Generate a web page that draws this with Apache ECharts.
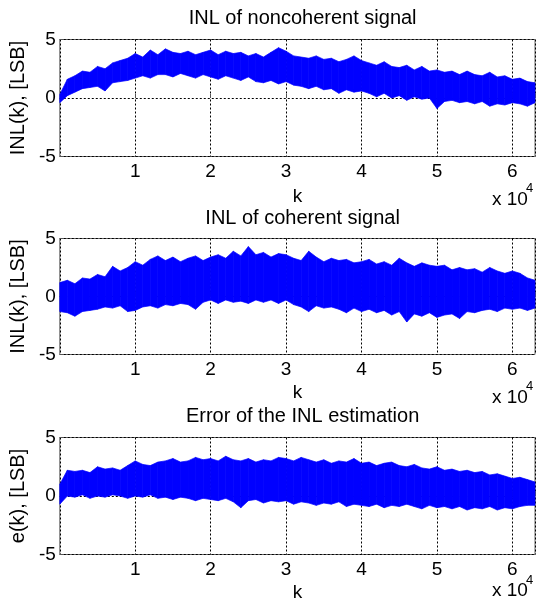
<!DOCTYPE html>
<html><head><meta charset="utf-8">
<script src="https://cdn.jsdelivr.net/npm/echarts@6/dist/echarts.min.js"></script>
<style>html,body{margin:0;padding:0;background:#fff}#c{width:538px;height:610px}</style>
</head><body><div id="c"></div><script>
// sample positions, in thousands of k
const kThousands = [0,1,2,3,4,5,6,7,8,9,10,11,12,13,14,15,16,17,18,19,20,21,22,23,24,25,26,27,28,29,30,31,32,33,34,35,36,37,38,39,40,41,42,43,44,45,46,47,48,49,50,51,52,53,54,55,56,57,58,59,60,61,62,63];
// envelope of the noisy traces (LSB)
const noncohUpper = [0.3,1.6,1.9,2.3,2.2,2.7,2.5,3.0,3.2,3.4,3.8,3.5,4.1,3.7,4.2,3.9,3.8,4.0,3.7,3.9,4.1,3.7,4.0,3.8,3.9,3.6,3.8,3.5,3.9,4.3,4.0,3.6,3.5,3.4,3.6,3.3,3.4,3.1,3.3,3.6,3.2,3.0,2.8,3.1,2.7,2.6,2.8,2.4,2.7,2.3,2.4,2.2,2.3,2.0,2.3,2.0,1.9,2.2,1.8,1.9,1.6,1.7,1.4,1.3];
const noncohLower = [-0.4,0.2,0.5,0.8,0.9,1.0,0.6,1.3,1.4,1.5,1.7,1.9,1.7,2.0,2.0,1.8,2.1,1.9,1.7,2.0,1.8,1.6,1.9,1.7,1.5,1.8,1.4,1.3,1.5,1.2,1.4,1.1,1.0,0.8,1.0,0.7,0.8,0.4,0.7,0.5,0.6,0.4,0.1,0.4,0.0,0.2,-0.2,0.1,-0.1,0.0,-0.9,-0.3,-0.2,-0.4,-0.3,-0.5,-0.3,-0.7,-0.5,-0.6,-0.4,-0.5,-0.7,-0.4];
const cohUpper = [1.2,1.4,1.1,1.6,1.5,1.9,1.7,2.6,2.2,2.5,3.0,2.7,3.2,3.5,3.1,3.4,3.0,3.3,3.5,3.1,3.4,3.6,3.3,3.9,3.5,4.3,3.6,3.8,3.4,3.7,3.6,3.3,3.1,3.9,3.4,3.0,3.3,3.1,3.2,2.9,3.0,3.2,2.8,3.0,2.7,3.3,2.9,2.6,2.9,2.7,2.6,2.7,2.3,2.5,2.3,2.4,2.1,2.5,2.2,2.0,2.2,2.0,1.6,1.4];
const cohLower = [-1.3,-1.4,-1.7,-1.3,-1.2,-1.1,-0.9,-1.0,-0.8,-1.3,-1.2,-0.9,-0.8,-1.0,-0.7,-0.8,-0.6,-0.7,-1.1,-0.5,-0.3,-0.6,-0.3,-0.5,-0.4,-0.6,-0.3,-0.5,-0.3,-0.6,-0.3,-0.7,-0.9,-1.3,-0.8,-1.0,-0.9,-1.1,-1.4,-1.0,-1.3,-1.1,-1.4,-1.2,-1.6,-1.3,-2.2,-1.5,-1.7,-1.4,-1.8,-1.6,-1.5,-1.9,-1.3,-1.4,-1.2,-1.1,-1.3,-1.0,-1.1,-1.0,-1.2,-1.0];
const errUpper = [1.0,2.2,2.1,2.2,2.0,2.5,2.3,2.4,2.2,2.6,3.0,2.7,2.6,2.9,3.0,3.2,2.9,3.0,3.3,3.1,3.2,3.0,3.4,3.1,3.0,3.2,2.9,3.1,3.0,3.3,3.2,3.0,3.3,3.1,2.9,3.1,2.8,3.0,2.9,3.2,2.8,2.9,2.6,2.8,2.9,2.6,2.5,2.7,2.4,2.3,2.5,2.2,2.3,2.1,2.2,2.0,2.1,1.8,1.9,1.7,1.5,1.6,1.4,1.2];
const errLower = [-0.7,0.0,-0.1,0.1,-0.2,0.0,-0.1,0.1,0.0,-0.2,0.0,-0.1,0.1,-0.2,-0.1,-0.3,-0.1,-0.2,-0.4,-0.2,-0.3,-0.4,-0.2,-0.5,-1.0,-0.4,-0.3,-0.6,-0.4,-0.5,-0.4,-0.7,-0.5,-0.6,-0.8,-0.6,-0.7,-0.5,-0.9,-0.7,-0.8,-0.9,-0.7,-1.0,-0.8,-0.9,-0.7,-0.9,-1.1,-0.8,-1.0,-0.9,-1.1,-0.9,-1.2,-1.0,-1.1,-0.9,-1.2,-1.0,-1.1,-0.9,-0.8,-0.8];
const titles = ['INL of noncoherent signal','INL of coherent signal','Error of the INL estimation'];
const yNames = ['INL(k), [LSB]','INL(k), [LSB]','e(k), [LSB]'];
const xTicks = [0,10000,20000,30000,40000,50000,60000];
const yTicks = [-5,0,5];

const FONT = "'Liberation Sans', Arial, sans-serif";
const panels = [
  {up: noncohUpper, lo: noncohLower, top: 39.5, h: 117, titleTop: 3, mulY: 200, kGap: 31},
  {up: cohUpper, lo: cohLower, top: 238.5, h: 116, titleTop: 203, mulY: 398, kGap: 28.5},
  {up: errUpper, lo: errLower, top: 437.5, h: 117, titleTop: 401, mulY: 591.5, kGap: 28.5}
];
const gridLine = {show: true, lineStyle: {color: '#000', type: [2, 2], width: 1}};
const grids = [], xAxes = [], yAxes = [], series = [], titleOpts = [], graphics = [];

function bandItem(params, api) {
  const p0 = api.coord([api.value(0), api.value(1)]);
  const p1 = api.coord([api.value(3), api.value(4)]);
  const p2 = api.coord([api.value(3), api.value(5)]);
  const p3 = api.coord([api.value(0), api.value(2)]);
  return {type: 'polygon', shape: {points: [p0, p1, p2, p3]},
    style: {fill: '#0000ff', stroke: '#0000ff', lineWidth: 0.7}};
}

panels.forEach((p, i) => {
  grids.push({left: 58.5, top: p.top, width: 478, height: p.h, show: true,
    borderColor: '#666', borderWidth: 1, backgroundColor: 'transparent', containLabel: false});
  titleOpts.push({text: titles[i], left: 297.6, top: p.titleTop, textAlign: 'center',
    textStyle: {fontFamily: FONT, fontSize: 20, fontWeight: 'normal', color: '#000'}});
  xAxes.push({type: 'value', gridIndex: i, min: 0, max: 63000, interval: 10000,
    axisLine: {show: false}, axisTick: {show: true, inside: true, length: 4, lineStyle: {color: '#555'}},
    splitLine: gridLine,
    axisLabel: {fontFamily: FONT, fontSize: 19, color: '#000', margin: 6,
      formatter: v => (xTicks.indexOf(v) > 0 ? String(v / 10000) : '')},
    name: 'k', nameLocation: 'middle', nameGap: p.kGap,
    nameTextStyle: {fontFamily: FONT, fontSize: 19, color: '#000'}});
  yAxes.push({type: 'value', gridIndex: i, min: -5, max: 5, interval: 5,
    axisLine: {show: false}, axisTick: {show: true, inside: true, length: 4, lineStyle: {color: '#555'}},
    splitLine: gridLine,
    axisLabel: {fontFamily: FONT, fontSize: 19, color: '#000', margin: 4,
      formatter: v => (yTicks.indexOf(v) >= 0 ? String(v) : '')},
    name: yNames[i], nameLocation: 'middle', nameGap: 25, nameRotate: 90,
    nameTextStyle: {fontFamily: FONT, fontSize: 20, color: '#000'}});
  const segs = [];
  for (let j = 0; j + 1 < kThousands.length; j++) {
    segs.push([kThousands[j] * 1000, p.lo[j], p.up[j], kThousands[j + 1] * 1000, p.lo[j + 1], p.up[j + 1]]);
  }
  series.push({type: 'custom', xAxisIndex: i, yAxisIndex: i, data: segs, renderItem: bandItem,
    encode: {x: [0, 3], y: [1, 2, 4, 5]}, clip: true, silent: true, animation: false});
  graphics.push({type: 'text', left: 492, top: p.mulY - 10,
    style: {text: 'x 10', font: '19px ' + FONT, fill: '#000'}});
  graphics.push({type: 'text', left: 526, top: p.mulY - 18,
    style: {text: '4', font: '13px ' + FONT, fill: '#000'}});
});
const chart = echarts.init(document.getElementById('c'), null, {renderer: 'canvas'});
chart.setOption({animation: false, backgroundColor: '#fff', title: titleOpts, grid: grids,
  xAxis: xAxes, yAxis: yAxes, series: series, graphic: graphics});
</script></body></html>
